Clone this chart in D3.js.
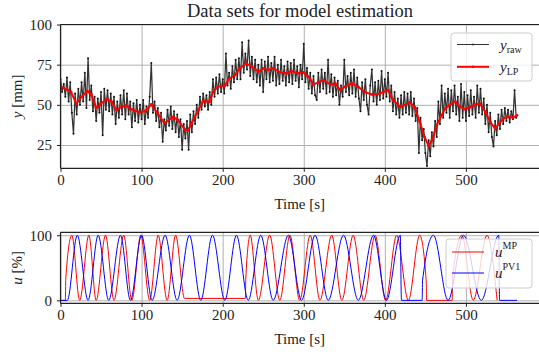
<!DOCTYPE html>
<html>
<head>
<meta charset="utf-8">
<script src="https://cdn.jsdelivr.net/npm/d3@7"></script>
<style>
  body { margin: 0; background: #fff; }
  text { font-family: 'Liberation Serif', 'DejaVu Serif', serif; fill: #222; }
</style>
</head>
<body>
<svg id="chart" width="539" height="354"></svg>
<script>
// raw level measurement, one sample every 2 s starting at t = 0
const rawStep = 2;
const yRaw = [
  66, 58, 63, 55, 67, 52, 64, 45, 32, 57,
  44, 60, 50, 64, 52, 70, 48, 79, 53, 62,
  46, 55, 40, 54, 45, 58, 31, 60, 47, 59,
  46, 57, 44, 55, 38, 52, 42, 56, 44, 59,
  41, 57, 44, 52, 36, 51, 40, 53, 39, 50,
  41, 53, 38, 49, 42, 55, 76, 45, 52, 40,
  48, 36, 45, 27, 41, 34, 47, 37, 49, 35,
  46, 33, 44, 30, 41, 22, 38, 29, 40, 22,
  44, 33, 46, 38, 50, 42, 55, 47, 57, 49,
  56, 47, 58, 50, 66, 55, 67, 57, 69, 58,
  66, 57, 82, 62, 70, 60, 74, 64, 78, 66,
  79, 66, 89, 70, 82, 72, 90, 68, 80, 66,
  78, 64, 75, 62, 78, 58, 77, 66, 80, 64,
  76, 65, 80, 62, 75, 63, 78, 65, 74, 62,
  77, 64, 76, 63, 78, 65, 74, 61, 75, 66,
  88, 64, 73, 60, 70, 57, 68, 56, 53, 70,
  58, 72, 60, 70, 57, 78, 58, 69, 55, 67,
  56, 65, 50, 62, 55, 78, 58, 68, 56, 70,
  57, 72, 55, 67, 54, 46, 64, 53, 66, 50,
  44, 62, 72, 52, 64, 50, 65, 53, 71, 54,
  66, 55, 70, 52, 62, 46, 58, 44, 54, 42,
  56, 44, 58, 45, 57, 44, 58, 43, 54, 40,
  48, 20, 42, 28, 35, 20, 12, 28, 18, 33,
  24, 40, 30, 52, 38, 62, 42, 57, 45, 60,
  42, 59, 46, 62, 44, 55, 40, 63, 42, 58,
  40, 56, 43, 59, 44, 55, 42, 62, 45, 60,
  44, 54, 38, 50, 33, 45, 30, 24, 40, 31,
  44, 35, 47, 38, 48, 40, 47, 39, 46, 41, 59, 42
];

// low-pass filtered level
const lpTime = [0, 9, 13, 19.5, 26, 33, 38, 44, 50, 57, 63, 69, 75, 81, 87, 96, 104, 112, 120, 128,
  139, 145, 153, 157, 161.5, 170, 176, 184, 188, 194, 203, 207, 215, 221, 229, 236, 244, 250, 256, 262,
  271, 279, 285, 293, 299, 306, 312, 318, 324, 333, 339, 345, 351, 359, 367, 375, 384, 392, 398, 404,
  410, 419, 425, 431, 437, 443, 449, 454, 459, 464, 470, 474, 480, 487, 493, 499, 505, 511, 517, 524,
  530, 536, 541, 546, 552, 558, 563];
const yLP = [61.5, 59.2, 58, 50.8, 55, 58.5, 56.5, 48, 50.8, 53.5, 52, 46.7, 48.7, 49.5, 47.3, 45.6, 46, 50.2, 44.6, 38.7,
  42.5, 40.4, 34.8, 34, 38.3, 46.7, 52.3, 52, 58, 61.3, 62, 66, 68.5, 72.7, 75.8, 73.8, 70.6, 72.7, 71.7, 72.7,
  70.2, 69.6, 71, 69.6, 70.2, 67.5, 62.7, 64, 65.4, 62.7, 63.3, 59.2, 61.3, 63.3, 61.3, 58, 56.5, 56.8, 58, 59.2,
  53, 48.7, 50, 51.5, 48.5, 39.4, 30, 24.4, 29, 37.3, 43.5, 47.5, 50, 52, 48.7, 47.3, 48.5, 50.2, 50.8, 45.6,
  39.4, 35.2, 38.3, 41.5, 42.5, 42.1, 43.5];

// actuator signals: turning points of each oscillation
const uMPTime = [0, 6, 6.5, 14, 23.7, 35, 44, 55.5, 66, 78, 88, 99, 110, 120.5, 131.5, 142, 153, 228, 228.5, 234,
  244, 258, 270.5, 283, 295, 308, 320, 334.5, 347, 361, 374, 388, 401, 414.6, 429, 443, 451, 451.5, 483, 483.5,
  495, 509, 526, 538.5];
const uMP = [0, 0, 33, 100, 0, 100, 0, 100, 0, 100, 0, 100, 0, 100, 0, 100, 3, 3, 33, 100,
  0, 100, 0, 100, 0, 100, 0, 100, 0, 100, 0, 100, 0, 100, 0, 100, 30, 0, 0, 35,
  100, 0, 100, 0];
const uPVTime = [0, 8.4, 20.7, 34, 46.5, 59.5, 74, 86.2, 100, 113, 129, 143.8, 159, 173, 187.4, 202.7, 217, 231.5, 247, 262.3,
  281, 297.3, 314, 330.2, 349, 367.3, 386, 402, 419, 420.5, 446, 446.5, 460, 478, 497, 519, 540.5, 541.5, 563];
const uPV1 = [0, 0, 100, 0, 100, 0, 100, 0, 100, 0, 100, 0, 100, 0, 100, 0, 100, 0, 100, 0,
  100, 0, 100, 0, 100, 0, 100, 0, 100, 0, 0, 30, 100, 0, 100, 0, 100, 0, 0];

const timeTicks = [0, 100, 200, 300, 400, 500];
const levelTicks = [25, 50, 75, 100];
const valveTicks = [0, 100];

const svg = d3.select('#chart');
const width = 539, height = 354;
const left = 60.5;

svg.append('rect').attr('width', width).attr('height', height).attr('fill', '#fff');

const xScale = d3.scaleLinear().domain([0, 600]).range([left, 547]);

const panels = [
  { id: 'top', top: 24.5, bottom: 168.3, domain: [10.5, 100], ticks: levelTicks },
  { id: 'bot', top: 232.3, bottom: 303.3, domain: [-4.5, 104.5], ticks: valveTicks }
];

panels.forEach(p => {
  p.y = d3.scaleLinear().domain(p.domain).range([p.bottom, p.top]);
  p.g = svg.append('g');

  svg.append('clipPath').attr('id', 'clip-' + p.id)
    .append('rect')
    .attr('x', left).attr('y', p.top)
    .attr('width', width - left).attr('height', p.bottom - p.top);

  // grid
  p.g.append('g')
    .attr('transform', `translate(0,${p.bottom})`)
    .call(d3.axisBottom(xScale).tickValues(timeTicks).tickSize(-(p.bottom - p.top)).tickFormat(''))
    .call(g => g.select('.domain').remove())
    .selectAll('line').attr('stroke', '#b0b0b0').attr('stroke-width', 1);
  p.g.append('g')
    .attr('transform', `translate(${left},0)`)
    .call(d3.axisLeft(p.y).tickValues(p.ticks).tickSize(-(width - left)).tickFormat(''))
    .call(g => g.select('.domain').remove())
    .selectAll('line').attr('stroke', '#b0b0b0').attr('stroke-width', 1);

  p.marks = p.g.append('g').attr('clip-path', `url(#clip-${p.id})`);
});

const topP = panels[0], botP = panels[1];

// raw measurement
const rawData = yRaw.map((v, i) => ({ t: i * rawStep, v: v }));
const lpData = lpTime.map((t, i) => ({ t: t, v: yLP[i] }));

const topLine = d3.line().x(d => xScale(d.t)).y(d => topP.y(d.v));

topP.marks.append('path')
  .datum(rawData)
  .attr('d', topLine)
  .attr('fill', 'none')
  .attr('stroke', '#333')
  .attr('stroke-width', 1.25);
topP.marks.append('g').selectAll('circle')
  .data(rawData)
  .join('circle')
  .attr('cx', d => xScale(d.t))
  .attr('cy', d => topP.y(d.v))
  .attr('r', 1)
  .attr('fill', '#111');

topP.marks.append('path')
  .datum(lpData)
  .attr('d', topLine)
  .attr('fill', 'none')
  .attr('stroke', '#ff0000')
  .attr('stroke-width', 2);
topP.marks.append('g').selectAll('circle')
  .data(lpData)
  .join('circle')
  .attr('cx', d => xScale(d.t))
  .attr('cy', d => topP.y(d.v))
  .attr('r', 1.4)
  .attr('fill', '#ff0000');

// valve signals
const botLine = d3.line().x(d => xScale(d.t)).y(d => botP.y(d.v)).curve(d3.curveMonotoneX);
const mpData = uMPTime.map((t, i) => ({ t: t, v: uMP[i] }));
const pvData = uPVTime.map((t, i) => ({ t: t, v: uPV1[i] }));

botP.marks.append('path')
  .datum(mpData)
  .attr('d', botLine)
  .attr('fill', 'none')
  .attr('stroke', '#ff0000')
  .attr('stroke-width', 1);
botP.marks.append('path')
  .datum(pvData)
  .attr('d', botLine)
  .attr('fill', 'none')
  .attr('stroke', '#0000ff')
  .attr('stroke-width', 1);

// spines, ticks and tick labels
panels.forEach(p => {
  const xAxisG = p.g.append('g')
    .attr('transform', `translate(0,${p.bottom})`)
    .call(d3.axisBottom(xScale).tickValues(timeTicks).tickSize(3.5).tickPadding(3).tickSizeOuter(0));
  const yAxisG = p.g.append('g')
    .attr('transform', `translate(${left},0)`)
    .call(d3.axisLeft(p.y).tickValues(p.ticks).tickSize(3.5).tickPadding(5).tickSizeOuter(0));
  [xAxisG, yAxisG].forEach(a => {
    a.select('.domain').remove();
    a.selectAll('line').attr('stroke', '#222');
    a.selectAll('text').attr('font-family', 'Liberation Serif').attr('font-size', 15).attr('fill', '#222');
  });

  p.g.append('line').attr('x1', left).attr('x2', width).attr('y1', p.top).attr('y2', p.top)
    .attr('stroke', '#222').attr('stroke-width', 1.2);
  p.g.append('line').attr('x1', left).attr('x2', width).attr('y1', p.bottom).attr('y2', p.bottom)
    .attr('stroke', '#222').attr('stroke-width', 1.2);
  p.g.append('line').attr('x1', left).attr('x2', left).attr('y1', p.top).attr('y2', p.bottom)
    .attr('stroke', '#222').attr('stroke-width', 1.2);

  p.g.append('text')
    .attr('x', (left + width) / 2)
    .attr('y', p.bottom + 41)
    .attr('text-anchor', 'middle')
    .attr('font-size', 15)
    .text('Time [s]');
});

// axis titles
function yTitle(p, sym, unit) {
  const t = svg.append('text')
    .attr('transform', `translate(22,${(p.top + p.bottom) / 2}) rotate(-90)`)
    .attr('text-anchor', 'middle')
    .attr('font-size', 15);
  t.append('tspan').attr('font-style', 'italic').text(sym);
  t.append('tspan').text(' ' + unit);
}
yTitle(topP, 'y', '[mm]');
yTitle(botP, 'u', '[%]');

svg.append('text')
  .attr('x', 300)
  .attr('y', 17)
  .attr('text-anchor', 'middle')
  .attr('font-size', 18.5)
  .text('Data sets for model estimation');

// legends
function legend(box, items) {
  const g = svg.append('g');
  g.append('rect')
    .attr('x', box.x).attr('y', box.y)
    .attr('width', box.w).attr('height', box.h)
    .attr('rx', 3)
    .attr('fill', 'rgba(255,255,255,0.8)')
    .attr('stroke', '#cccccc');
  items.forEach((it, i) => {
    const yy = box.y + box.first + i * box.gap;
    g.append('line')
      .attr('x1', box.x + 6).attr('x2', box.x + 38)
      .attr('y1', yy).attr('y2', yy)
      .attr('stroke', it.color).attr('stroke-width', it.width);
    if (it.marker) {
      g.append('circle').attr('cx', box.x + 22).attr('cy', yy).attr('r', it.marker).attr('fill', it.color);
    }
    const t = g.append('text')
      .attr('x', box.x + 49)
      .attr('y', yy + 5)
      .attr('font-size', 15);
    t.append('tspan').attr('font-style', 'italic').text(it.sym);
    t.append('tspan')
      .attr('font-size', 10)
      .attr('dy', it.shift)
      .text(it.idx);
  });
}

legend({ x: 451, y: 33, w: 81, h: 48, first: 11.5, gap: 22.3 }, [
  { sym: 'y', idx: 'raw', color: '#333', width: 1, marker: 1, shift: 3 },
  { sym: 'y', idx: 'LP', color: '#ff0000', width: 2, marker: 1.4, shift: 3 }
]);
legend({ x: 446, y: 239, w: 86, h: 49, first: 13, gap: 21 }, [
  { sym: 'u', idx: 'MP', color: '#ff0000', width: 1, marker: 0, shift: -8 },
  { sym: 'u', idx: 'PV1', color: '#0000ff', width: 1, marker: 0, shift: -8 }
]);
</script>
</body>
</html>
